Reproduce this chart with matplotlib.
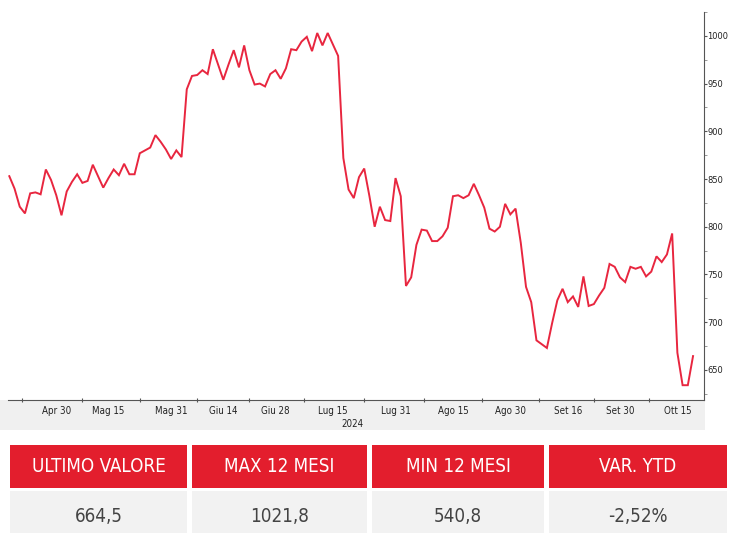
import matplotlib
matplotlib.use("Agg")
import matplotlib.pyplot as plt
from matplotlib.patches import Rectangle
from matplotlib.ticker import FixedLocator, MultipleLocator
import pandas as pd
import numpy as np

# ---------------- data ----------------
values = [853, 840, 821, 814, 835, 836, 834, 860, 849, 833,
          812, 837, 847, 855, 846, 848, 865, 853, 841, 851,
          860, 854, 866, 855, 855, 877, 880, 883, 896, 889,
          881, 871, 880, 873, 944, 958, 959, 964, 960, 986,
          970, 954, 970, 985, 967, 990, 964, 949, 950, 947,
          960, 964, 955, 966, 986, 985, 994, 999, 984, 1003,
          990, 1003, 991, 979, 872, 839, 830, 852, 861, 832,
          800, 821, 807, 806, 851, 832, 738, 747, 781, 797,
          796, 785, 785, 790, 799, 832, 833, 830, 833, 845,
          833, 820, 798, 795, 800, 824, 813, 819, 783, 737,
          721, 681, 677, 673, 699, 723, 735, 721, 727, 716,
          748, 717, 719, 728, 736, 761, 758, 747, 742, 758,
          756, 758, 748, 753, 769, 763, 771, 793, 668, 634,
          634, 664.5]

start_date = "2024-04-17"
end_date = "2024-10-18"
holidays = ["2024-05-01"]

tick_dates = ["2024-04-30", "2024-05-15", "2024-05-31", "2024-06-14",
              "2024-06-28", "2024-07-15", "2024-07-31", "2024-08-15",
              "2024-08-30", "2024-09-16", "2024-09-30", "2024-10-15"]
tick_labels = ["Apr 30", "Mag 15", "Mag 31", "Giu 14", "Giu 28", "Lug 15",
               "Lug 31", "Ago 15", "Ago 30", "Set 16", "Set 30", "Ott 15"]
year_label = "2024"

y_ticks = [650, 700, 750, 800, 850, 900, 950, 1000]

table_headers = ["ULTIMO VALORE", "MAX 12 MESI", "MIN 12 MESI", "VAR. YTD"]
table_values = ["664,5", "1021,8", "540,8", "-2,52%"]

# ---------------- fonts ----------------
plt.rcParams['font.family'] = ['DejaVu Sans']
plt.rcParams['font.stretch'] = 'condensed'

# ---------------- figure ----------------
W, H = 729, 533
fig = plt.figure(figsize=(W / 100, H / 100), dpi=100)
fig.patch.set_facecolor("white")

def fx(px):
    return px / W

def fy(py):
    return 1 - py / H

# grey band under x axis
fig.add_artist(Rectangle((fx(0), fy(430)), fx(705), (430 - 400) / H,
                         transform=fig.transFigure, facecolor="#f0f0f0",
                         edgecolor="none", zorder=0))

ax = fig.add_axes([fx(8), fy(400), fx(704) - fx(8), (400 - 12) / H])
ax.set_facecolor("none")

dates = pd.bdate_range(start_date, end_date)
dates = dates[~dates.isin(pd.to_datetime(holidays))]
idx = np.arange(len(dates))
ax.plot(idx[:len(values)], values, color="#e8263f", lw=1.4, solid_joinstyle="miter")

ax.set_xlim(-0.25, 133.1)
ax.set_ylim(618.5, 1025)

pos = [int(np.where(dates == pd.Timestamp(d))[0][0]) for d in tick_dates]
ax.xaxis.set_major_locator(FixedLocator(pos))
ax.set_xticklabels(tick_labels)
mids = [pos[0] - 6.5] + [(a + b) / 2 for a, b in zip(pos[:-1], pos[1:])]
ax.xaxis.set_minor_locator(FixedLocator(mids))
ax.tick_params(axis="x", which="major", length=0, pad=4, labelsize=7, labelcolor="#222222")
ax.tick_params(axis="x", which="minor", length=3, direction="inout", color="#555555", width=0.8)

ax.yaxis.tick_right()
ax.set_yticks(y_ticks)
ax.yaxis.set_minor_locator(MultipleLocator(25))
ax.tick_params(axis="y", which="major", length=2, direction="out", pad=0.5,
               labelsize=6.7, labelcolor="#222222", color="#555555", width=0.8)
ax.tick_params(axis="y", which="minor", length=2, direction="out", color="#888888", width=0.6)

for s in ["left", "top"]:
    ax.spines[s].set_visible(False)
ax.spines["right"].set_color("#555555")
ax.spines["right"].set_linewidth(0.8)
ax.spines["bottom"].set_color("#555555")
ax.spines["bottom"].set_linewidth(0.8)

fig.text(fx(352), fy(424), year_label, ha="center", va="center",
         fontsize=7, color="#222222")

# ---------------- table ----------------
cells_x = [(10, 187), (192, 367), (372, 544), (549, 727)]
red = "#e31e2d"
for (x0, x1), head, val in zip(cells_x, table_headers, table_values):
    fig.add_artist(Rectangle((fx(x0), fy(488)), fx(x1 - x0), (488 - 445) / H,
                             transform=fig.transFigure, facecolor=red,
                             edgecolor="none"))
    fig.add_artist(Rectangle((fx(x0), fy(533)), fx(x1 - x0), (533 - 491) / H,
                             transform=fig.transFigure, facecolor="#f2f2f2",
                             edgecolor="none"))
    xc = fx((x0 + x1) / 2)
    fig.text(xc, fy(467), head, ha="center", va="center", color="white",
             fontsize=13.5)
    fig.text(xc, fy(516), val, ha="center", va="center", color="#444444",
             fontsize=13.5)

fig.savefig("out.png", dpi=100)
